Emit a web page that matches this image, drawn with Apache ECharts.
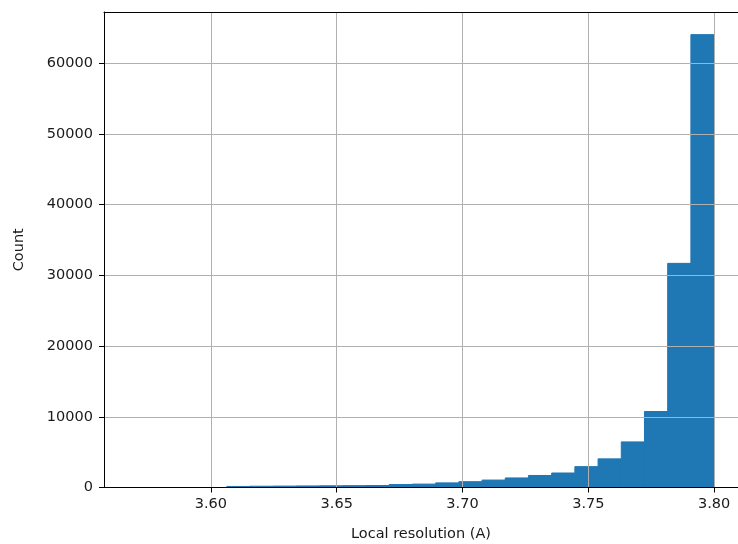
<!DOCTYPE html>
<html>
<head>
<meta charset="utf-8">
<script src="https://cdn.jsdelivr.net/npm/echarts@6/dist/echarts.min.js"></script>
<style>
html,body{margin:0;padding:0;background:#fff;}
#chart{width:738px;height:544px;}
</style>
</head>
<body>
<div id="chart"></div>
<script>
// Histogram bins: 21 equal-width bins from binStart to binEnd
var binStart = 3.6063;
var binEnd = 3.80;
var counts = [150, 180, 200, 220, 240, 260, 280, 420, 480, 650, 820,
              1050, 1350, 1700, 2050, 2950, 4050, 6450, 10750, 31700, 64050];
var xTicks = [3.60, 3.65, 3.70, 3.75, 3.80];
var yTicks = [0, 10000, 20000, 30000, 40000, 50000, 60000];
var xLabel = 'Local resolution (A)';
var yLabel = 'Count';

var binWidth = (binEnd - binStart) / counts.length;
var data = counts.map(function (c, i) {
  return [binStart + i * binWidth, binStart + (i + 1) * binWidth, c];
});

var font = 'DejaVu Sans';
var txt = '#1a1a1a';
var fs = 14.5;
var chart = echarts.init(document.getElementById('chart'), null, {renderer: 'canvas'});
chart.setOption({
  animation: false,
  backgroundColor: '#fff',
  grid: {left: 104, right: 0, top: 12, bottom: 56.5, containLabel: false, outerBoundsMode: 'none'},
  xAxis: [{
    type: 'value', min: 3.5575, max: 3.8095, z: 5,
    name: xLabel, nameLocation: 'middle', nameGap: 39,
    nameTextStyle: {fontFamily: font, fontSize: fs, color: txt},
    axisLine: {show: true, onZero: false, lineStyle: {color: '#000', width: 1}},
    axisTick: {show: true, length: 5, customValues: xTicks, lineStyle: {color: '#000', width: 1}},
    axisLabel: {customValues: xTicks, margin: 9, fontFamily: font, fontSize: fs, color: txt,
      formatter: function (v) { return v.toFixed(2); }},
    splitLine: {show: true, lineStyle: {color: '#b0b0b0', width: 1}}
  }, {
    type: 'value', position: 'top', min: 3.5575, max: 3.8095, z: 5,
    axisLine: {show: true, onZero: false, lineStyle: {color: '#000', width: 1}},
    axisTick: {show: false}, axisLabel: {show: false}, splitLine: {show: false}
  }],
  yAxis: {
    type: 'value', min: 0, max: 67250, z: 5,
    name: yLabel, nameLocation: 'middle', nameGap: 77, nameRotate: 90,
    nameTextStyle: {fontFamily: font, fontSize: fs, color: txt},
    axisLine: {show: true, onZero: false, lineStyle: {color: '#000', width: 1}},
    axisTick: {show: true, length: 5, customValues: yTicks, lineStyle: {color: '#000', width: 1}},
    axisLabel: {customValues: yTicks, margin: 11, fontFamily: font, fontSize: fs, color: txt,
      formatter: function (v) { return String(v); }},
    splitLine: {show: true, lineStyle: {color: '#b0b0b0', width: 1}}
  },
  series: [{
    type: 'custom', z: 1,
    data: data,
    encode: {x: [0, 1], y: 2},
    renderItem: function (params, api) {
      var p0 = api.coord([api.value(0), api.value(2)]);
      var p1 = api.coord([api.value(1), 0]);
      return {
        type: 'rect',
        shape: {x: p0[0], y: p0[1], width: p1[0] - p0[0], height: p1[1] - p0[1]},
        style: {fill: '#1f77b4', stroke: '#1f77b4', lineWidth: 1}
      };
    }
  }]
});
</script>
</body>
</html>
